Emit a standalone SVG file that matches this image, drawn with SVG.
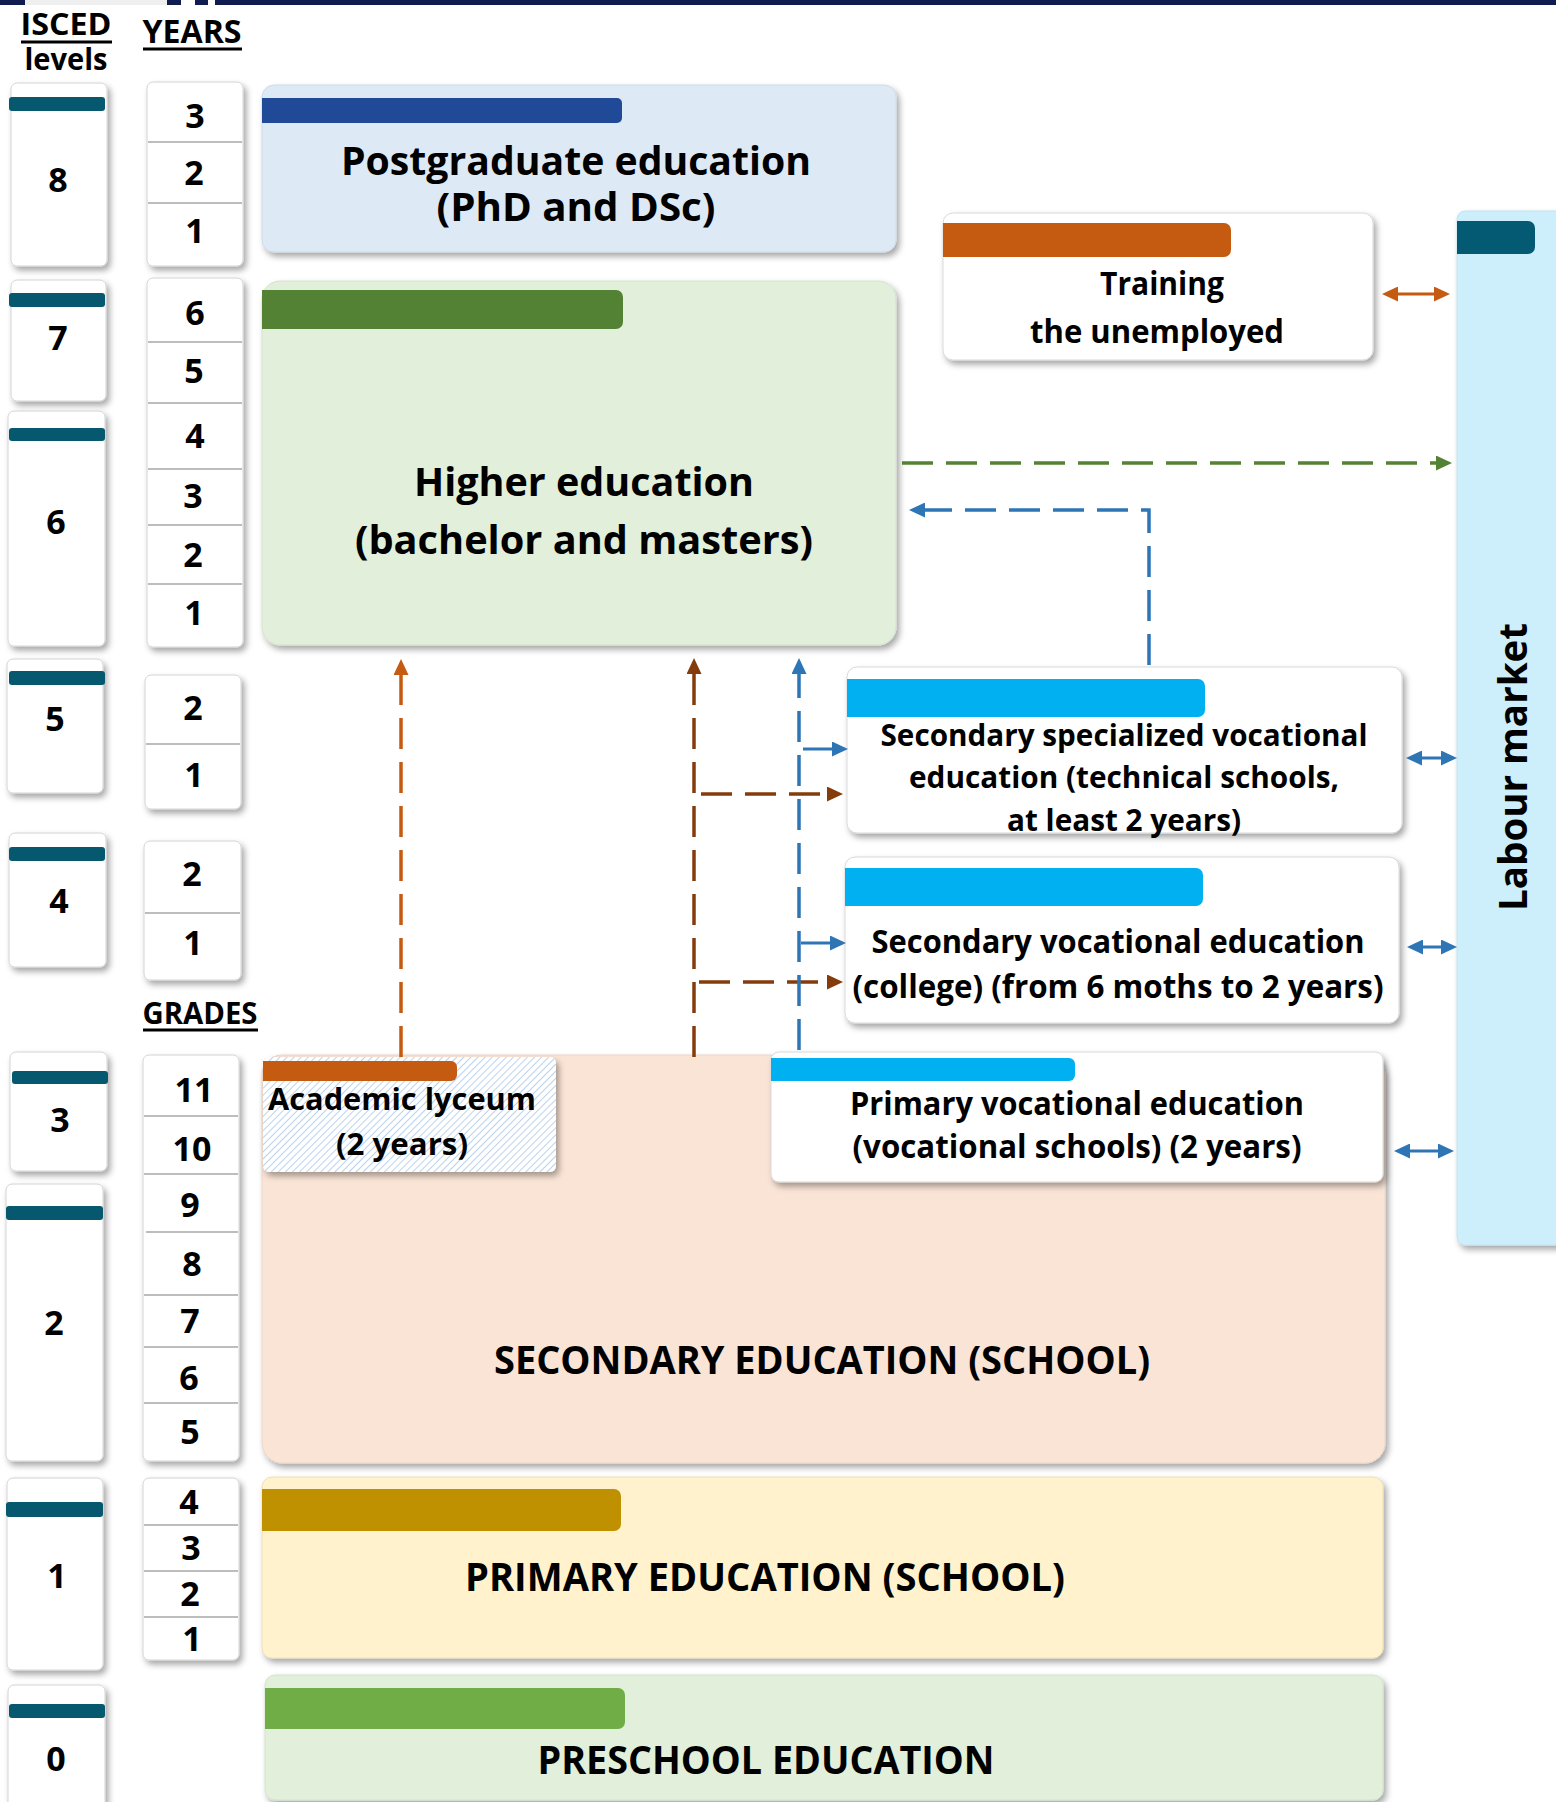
<svg xmlns="http://www.w3.org/2000/svg" width="1556" height="1802" viewBox="0 0 1556 1802">
<style>
.t{font-family:"Open Sans","Noto Sans","DejaVu Sans",sans-serif;font-weight:700;fill:#000;text-anchor:middle}
.num{font-size:34px}
.cell{fill:#fff;stroke:#d4d4d4;stroke-width:1}
.sep{stroke:#bdbdbd;stroke-width:2}
.lvbar{fill:#06586f}
.dash{fill:none;stroke-width:3.5;stroke-dasharray:31 13}
.solid{fill:none;stroke-width:3}
.ul{stroke:#000;stroke-width:3}
</style>
<defs>
<filter id="sh" x="-10%" y="-10%" width="125%" height="125%">
<feDropShadow dx="3" dy="4" stdDeviation="3" flood-color="#000" flood-opacity="0.35"/>
</filter>
<pattern id="hatch" width="5" height="5" patternUnits="userSpaceOnUse" patternTransform="rotate(45)">
<rect width="5" height="5" fill="#ffffff"/>
<line x1="0" y1="0" x2="0" y2="5" stroke="#a9c7ea" stroke-width="1.6"/>
</pattern>
<marker id="aO" viewBox="0 0 16 15" markerUnits="userSpaceOnUse" markerWidth="16" markerHeight="15" refX="1" refY="7.5" orient="auto-start-reverse"><path d="M0,0 L16,7.5 L0,15 z" fill="#c55a11"/></marker>
<marker id="aBr" viewBox="0 0 16 15" markerUnits="userSpaceOnUse" markerWidth="16" markerHeight="15" refX="1" refY="7.5" orient="auto-start-reverse"><path d="M0,0 L16,7.5 L0,15 z" fill="#843c0c"/></marker>
<marker id="aB" viewBox="0 0 16 15" markerUnits="userSpaceOnUse" markerWidth="16" markerHeight="15" refX="1" refY="7.5" orient="auto-start-reverse"><path d="M0,0 L16,7.5 L0,15 z" fill="#2e75b6"/></marker>
<marker id="aG" viewBox="0 0 16 15" markerUnits="userSpaceOnUse" markerWidth="16" markerHeight="15" refX="1" refY="7.5" orient="auto-start-reverse"><path d="M0,0 L16,7.5 L0,15 z" fill="#548235"/></marker>
</defs>
<rect width="1556" height="1802" fill="#fff"/>
<g id="topstrip">
<rect x="0" y="0" width="1556" height="5" fill="#101c50"/>
<rect x="25" y="0" width="142" height="5" fill="#efefef"/>
<rect x="181" y="0" width="14" height="5" fill="#fff"/>
<rect x="208" y="0" width="7" height="5" fill="#fff"/>
</g>
<g id="headers">
<text class="t" x="66" y="35" font-size="31" textLength="91" lengthAdjust="spacingAndGlyphs">ISCED</text>
<line class="ul" x1="21" y1="42" x2="112" y2="42"/>
<text class="t" x="66" y="70" font-size="30" textLength="83" lengthAdjust="spacingAndGlyphs">levels</text>
<text class="t" x="192" y="43" font-size="32" textLength="99" lengthAdjust="spacingAndGlyphs">YEARS</text>
<line class="ul" x1="143" y1="49" x2="242" y2="49"/>
<text class="t" x="200" y="1024" font-size="30" textLength="115" lengthAdjust="spacingAndGlyphs">GRADES</text>
<line class="ul" x1="143" y1="1030" x2="258" y2="1030"/>
</g>
<g id="isced-levels">
<g id="isced-8"><rect class="cell" x="11" y="83" width="96" height="183" rx="6" filter="url(#sh)"/><rect class="lvbar" x="9" y="97" width="96" height="14" rx="3"/><text class="t num" x="58" y="192">8</text></g>
<g id="isced-7"><rect class="cell" x="11" y="280" width="95" height="121" rx="6" filter="url(#sh)"/><rect class="lvbar" x="9" y="293" width="96" height="14" rx="3"/><text class="t num" x="58" y="350">7</text></g>
<g id="isced-6"><rect class="cell" x="8" y="411" width="97" height="235" rx="6" filter="url(#sh)"/><rect class="lvbar" x="9" y="428" width="96" height="13" rx="3"/><text class="t num" x="56" y="534">6</text></g>
<g id="isced-5"><rect class="cell" x="7" y="659" width="96" height="134" rx="6" filter="url(#sh)"/><rect class="lvbar" x="9" y="671" width="96" height="14" rx="3"/><text class="t num" x="55" y="731">5</text></g>
<g id="isced-4"><rect class="cell" x="9" y="833" width="97" height="134" rx="6" filter="url(#sh)"/><rect class="lvbar" x="9" y="847" width="96" height="14" rx="3"/><text class="t num" x="59" y="913">4</text></g>
<g id="isced-3"><rect class="cell" x="10" y="1052" width="97" height="119" rx="6" filter="url(#sh)"/><rect class="lvbar" x="12" y="1071" width="96" height="13" rx="3"/><text class="t num" x="60" y="1132">3</text></g>
<g id="isced-2"><rect class="cell" x="6" y="1184" width="97" height="277" rx="6" filter="url(#sh)"/><rect class="lvbar" x="6" y="1206" width="97" height="14" rx="3"/><text class="t num" x="54" y="1335">2</text></g>
<g id="isced-1"><rect class="cell" x="7" y="1478" width="96" height="192" rx="6" filter="url(#sh)"/><rect class="lvbar" x="6" y="1502" width="97" height="15" rx="3"/><text class="t num" x="57" y="1588">1</text></g>
<g id="isced-0"><rect class="cell" x="8" y="1685" width="97" height="140" rx="6" filter="url(#sh)"/><rect class="lvbar" x="9" y="1704" width="96" height="14" rx="3"/><text class="t num" x="56" y="1771">0</text></g>
</g>
<g id="years">
<g id="years-postgrad"><rect class="cell" x="147" y="82" width="96" height="184" rx="6" filter="url(#sh)"/>
<line class="sep" x1="148" y1="142" x2="242" y2="142"/><line class="sep" x1="148" y1="203" x2="242" y2="203"/>
<text class="t num" x="195" y="128">3</text><text class="t num" x="194" y="185">2</text><text class="t num" x="195" y="243">1</text></g>
<g id="years-higher"><rect class="cell" x="147" y="278" width="96" height="369" rx="6" filter="url(#sh)"/>
<line class="sep" x1="148" y1="342" x2="242" y2="342"/><line class="sep" x1="148" y1="403" x2="242" y2="403"/><line class="sep" x1="148" y1="469" x2="242" y2="469"/><line class="sep" x1="148" y1="525" x2="242" y2="525"/><line class="sep" x1="148" y1="584" x2="242" y2="584"/>
<text class="t num" x="195" y="325">6</text><text class="t num" x="194" y="383">5</text><text class="t num" x="195" y="448">4</text><text class="t num" x="193" y="508">3</text><text class="t num" x="193" y="567">2</text><text class="t num" x="194" y="625">1</text></g>
<g id="years-5"><rect class="cell" x="145" y="675" width="96" height="134" rx="6" filter="url(#sh)"/>
<line class="sep" x1="146" y1="744" x2="240" y2="744"/>
<text class="t num" x="193" y="720">2</text><text class="t num" x="194" y="787">1</text></g>
<g id="years-4"><rect class="cell" x="144" y="841" width="97" height="139" rx="6" filter="url(#sh)"/>
<line class="sep" x1="145" y1="913" x2="240" y2="913"/>
<text class="t num" x="192" y="886">2</text><text class="t num" x="193" y="955">1</text></g>
<g id="grades-secondary"><rect class="cell" x="143" y="1055" width="96" height="406" rx="6" filter="url(#sh)"/>
<line class="sep" x1="144" y1="1116" x2="238" y2="1116"/><line class="sep" x1="144" y1="1174" x2="238" y2="1174"/><line class="sep" x1="146" y1="1232" x2="238" y2="1232"/><line class="sep" x1="144" y1="1295" x2="238" y2="1295"/><line class="sep" x1="144" y1="1347" x2="238" y2="1347"/><line class="sep" x1="144" y1="1403" x2="238" y2="1403"/>
<text class="t num" x="194" y="1102">11</text><text class="t num" x="192" y="1161">10</text><text class="t num" x="190" y="1217">9</text><text class="t num" x="192" y="1276">8</text><text class="t num" x="190" y="1333">7</text><text class="t num" x="189" y="1390">6</text><text class="t num" x="190" y="1444">5</text></g>
<g id="grades-primary"><rect class="cell" x="143" y="1478" width="96" height="182" rx="6" filter="url(#sh)"/>
<line class="sep" x1="144" y1="1525" x2="238" y2="1525"/><line class="sep" x1="144" y1="1571" x2="238" y2="1571"/><line class="sep" x1="144" y1="1617" x2="238" y2="1617"/>
<text class="t num" x="189" y="1514">4</text><text class="t num" x="191" y="1560">3</text><text class="t num" x="190" y="1606">2</text><text class="t num" x="192" y="1651">1</text></g>
</g>
<g id="postgraduate">
<rect x="262" y="85" width="634" height="167" rx="12" fill="#dde9f5" stroke="#d0dbe8" stroke-width="1" filter="url(#sh)"/>
<path d="M262,98 H617 a5,5 0 0 1 5,5 V118 a5,5 0 0 1 -5,5 H262 z" fill="#204a97"/>
<text class="t" x="576" y="175" font-size="40" textLength="470" lengthAdjust="spacingAndGlyphs">Postgraduate education</text>
<text class="t" x="576" y="221" font-size="40" textLength="279" lengthAdjust="spacingAndGlyphs">(PhD and DSc)</text>
</g>
<g id="higher">
<rect x="262" y="281" width="634" height="364" rx="18" fill="#e2efda" stroke="#d5e2cd" stroke-width="1" filter="url(#sh)"/>
<path d="M262,290 H616 a7,7 0 0 1 7,7 V322 a7,7 0 0 1 -7,7 H262 z" fill="#548235"/>
<text class="t" x="584" y="496" font-size="40" textLength="340" lengthAdjust="spacingAndGlyphs">Higher education</text>
<text class="t" x="584" y="554" font-size="40" textLength="458" lengthAdjust="spacingAndGlyphs">(bachelor and masters)</text>
</g>
<g id="training">
<rect x="943" y="213" width="430" height="147" rx="10" fill="#fff" stroke="#d9d9d9" stroke-width="1" filter="url(#sh)"/>
<path d="M943,223 H1224 a7,7 0 0 1 7,7 V250 a7,7 0 0 1 -7,7 H943 z" fill="#c55a11"/>
<text class="t" x="1162" y="295" font-size="32" textLength="124" lengthAdjust="spacingAndGlyphs">Training</text>
<text class="t" x="1157" y="343" font-size="32" textLength="254" lengthAdjust="spacingAndGlyphs">the unemployed</text>
</g>
<g id="labour-market">
<rect x="1457" y="211" width="110" height="1034" rx="8" fill="#cdeffc" stroke="#c2e2ee" stroke-width="1" filter="url(#sh)"/>
<path d="M1457,221 H1528 a7,7 0 0 1 7,7 V247 a7,7 0 0 1 -7,7 H1457 z" fill="#045a72"/>
<text class="t" transform="translate(1527,767) rotate(-90)" font-size="40" textLength="288" lengthAdjust="spacingAndGlyphs">Labour market</text>
</g>
<g id="secondary-specialized">
<rect x="847" y="667" width="555" height="166" rx="10" fill="#fff" stroke="#d9d9d9" stroke-width="1" filter="url(#sh)"/>
<path d="M847,679 H1198 a7,7 0 0 1 7,7 V710 a7,7 0 0 1 -7,7 H847 z" fill="#00b0f0"/>
<text class="t" x="1124" y="746" font-size="30.5" textLength="487" lengthAdjust="spacingAndGlyphs">Secondary specialized vocational</text>
<text class="t" x="1124" y="788" font-size="30.5" textLength="430" lengthAdjust="spacingAndGlyphs">education (technical schools,</text>
<text class="t" x="1124" y="831" font-size="30.5" textLength="234" lengthAdjust="spacingAndGlyphs">at least 2 years)</text>
</g>
<g id="secondary-vocational">
<rect x="845" y="857" width="554" height="166" rx="10" fill="#fff" stroke="#d9d9d9" stroke-width="1" filter="url(#sh)"/>
<path d="M845,868 H1196 a7,7 0 0 1 7,7 V899 a7,7 0 0 1 -7,7 H845 z" fill="#00b0f0"/>
<text class="t" x="1118" y="953" font-size="31.5" textLength="493" lengthAdjust="spacingAndGlyphs">Secondary vocational education</text>
<text class="t" x="1118" y="998" font-size="31.5" textLength="531" lengthAdjust="spacingAndGlyphs">(college) (from 6 moths to 2 years)</text>
</g>
<g id="secondary-school">
<rect x="262" y="1055" width="1123" height="408" rx="20" fill="#fae4d6" stroke="#ecd6c8" stroke-width="1" filter="url(#sh)"/>
<text class="t" x="822" y="1374" font-size="39" textLength="656" lengthAdjust="spacingAndGlyphs">SECONDARY EDUCATION (SCHOOL)</text>
</g>
<g id="academic-lyceum">
<rect x="263" y="1057" width="293" height="115" rx="6" fill="url(#hatch)" filter="url(#sh)"/>
<path d="M263,1061 H451 a6,6 0 0 1 6,6 V1075 a6,6 0 0 1 -6,6 H263 z" fill="#c55a11"/>
<text class="t" x="402" y="1110" font-size="31" textLength="268" lengthAdjust="spacingAndGlyphs">Academic lyceum</text>
<text class="t" x="402" y="1155" font-size="31" textLength="132" lengthAdjust="spacingAndGlyphs">(2 years)</text>
</g>
<g id="primary-vocational">
<rect x="771" y="1052" width="612" height="130" rx="8" fill="#fff" stroke="#d9d9d9" stroke-width="1" filter="url(#sh)"/>
<path d="M771,1058 H1069 a6,6 0 0 1 6,6 V1075 a6,6 0 0 1 -6,6 H771 z" fill="#00b0f0"/>
<text class="t" x="1077" y="1115" font-size="32" textLength="454" lengthAdjust="spacingAndGlyphs">Primary vocational education</text>
<text class="t" x="1077" y="1158" font-size="32" textLength="449" lengthAdjust="spacingAndGlyphs">(vocational schools) (2 years)</text>
</g>
<g id="primary-school">
<rect x="262" y="1477" width="1121" height="181" rx="10" fill="#fff2cc" stroke="#ece0bb" stroke-width="1" filter="url(#sh)"/>
<path d="M262,1489 H614 a7,7 0 0 1 7,7 V1524 a7,7 0 0 1 -7,7 H262 z" fill="#bf9000"/>
<text class="t" x="765" y="1591" font-size="39" textLength="600" lengthAdjust="spacingAndGlyphs">PRIMARY EDUCATION (SCHOOL)</text>
</g>
<g id="preschool">
<rect x="265" y="1675" width="1118" height="125" rx="10" fill="#e2efda" stroke="#d5e2cd" stroke-width="1" filter="url(#sh)"/>
<path d="M265,1688 H618 a7,7 0 0 1 7,7 V1722 a7,7 0 0 1 -7,7 H265 z" fill="#70ad47"/>
<text class="t" x="766" y="1774" font-size="39" textLength="457" lengthAdjust="spacingAndGlyphs">PRESCHOOL EDUCATION</text>
</g>
<g id="connectors">
<path class="dash" d="M401,1057 V674" stroke="#c55a11" marker-end="url(#aO)"/>
<path class="dash" d="M694,1057 V673" stroke="#843c0c" marker-end="url(#aBr)"/>
<path class="dash" d="M701,794 H828" stroke="#843c0c" marker-end="url(#aBr)"/>
<path class="dash" d="M699,982 H828" stroke="#843c0c" marker-end="url(#aBr)"/>
<path class="dash" d="M799,1050 V673" stroke="#2e75b6" marker-end="url(#aB)"/>
<path class="solid" d="M803,749 H833" stroke="#2e75b6" marker-end="url(#aB)"/>
<path class="solid" d="M801,943 H831" stroke="#2e75b6" marker-end="url(#aB)"/>
<path class="dash" d="M1149,665 V510 H924" stroke="#2e75b6" marker-end="url(#aB)"/>
<path class="dash" d="M902,463 H1437" stroke="#548235" marker-end="url(#aG)"/>
<path class="solid" d="M1397,294 H1435" stroke="#c55a11" marker-start="url(#aO)" marker-end="url(#aO)"/>
<path class="solid" d="M1421,758 H1442" stroke="#2e75b6" marker-start="url(#aB)" marker-end="url(#aB)"/>
<path class="solid" d="M1422,947 H1442" stroke="#2e75b6" marker-start="url(#aB)" marker-end="url(#aB)"/>
<path class="solid" d="M1409,1151 H1439" stroke="#2e75b6" marker-start="url(#aB)" marker-end="url(#aB)"/>
</g>
</svg>
